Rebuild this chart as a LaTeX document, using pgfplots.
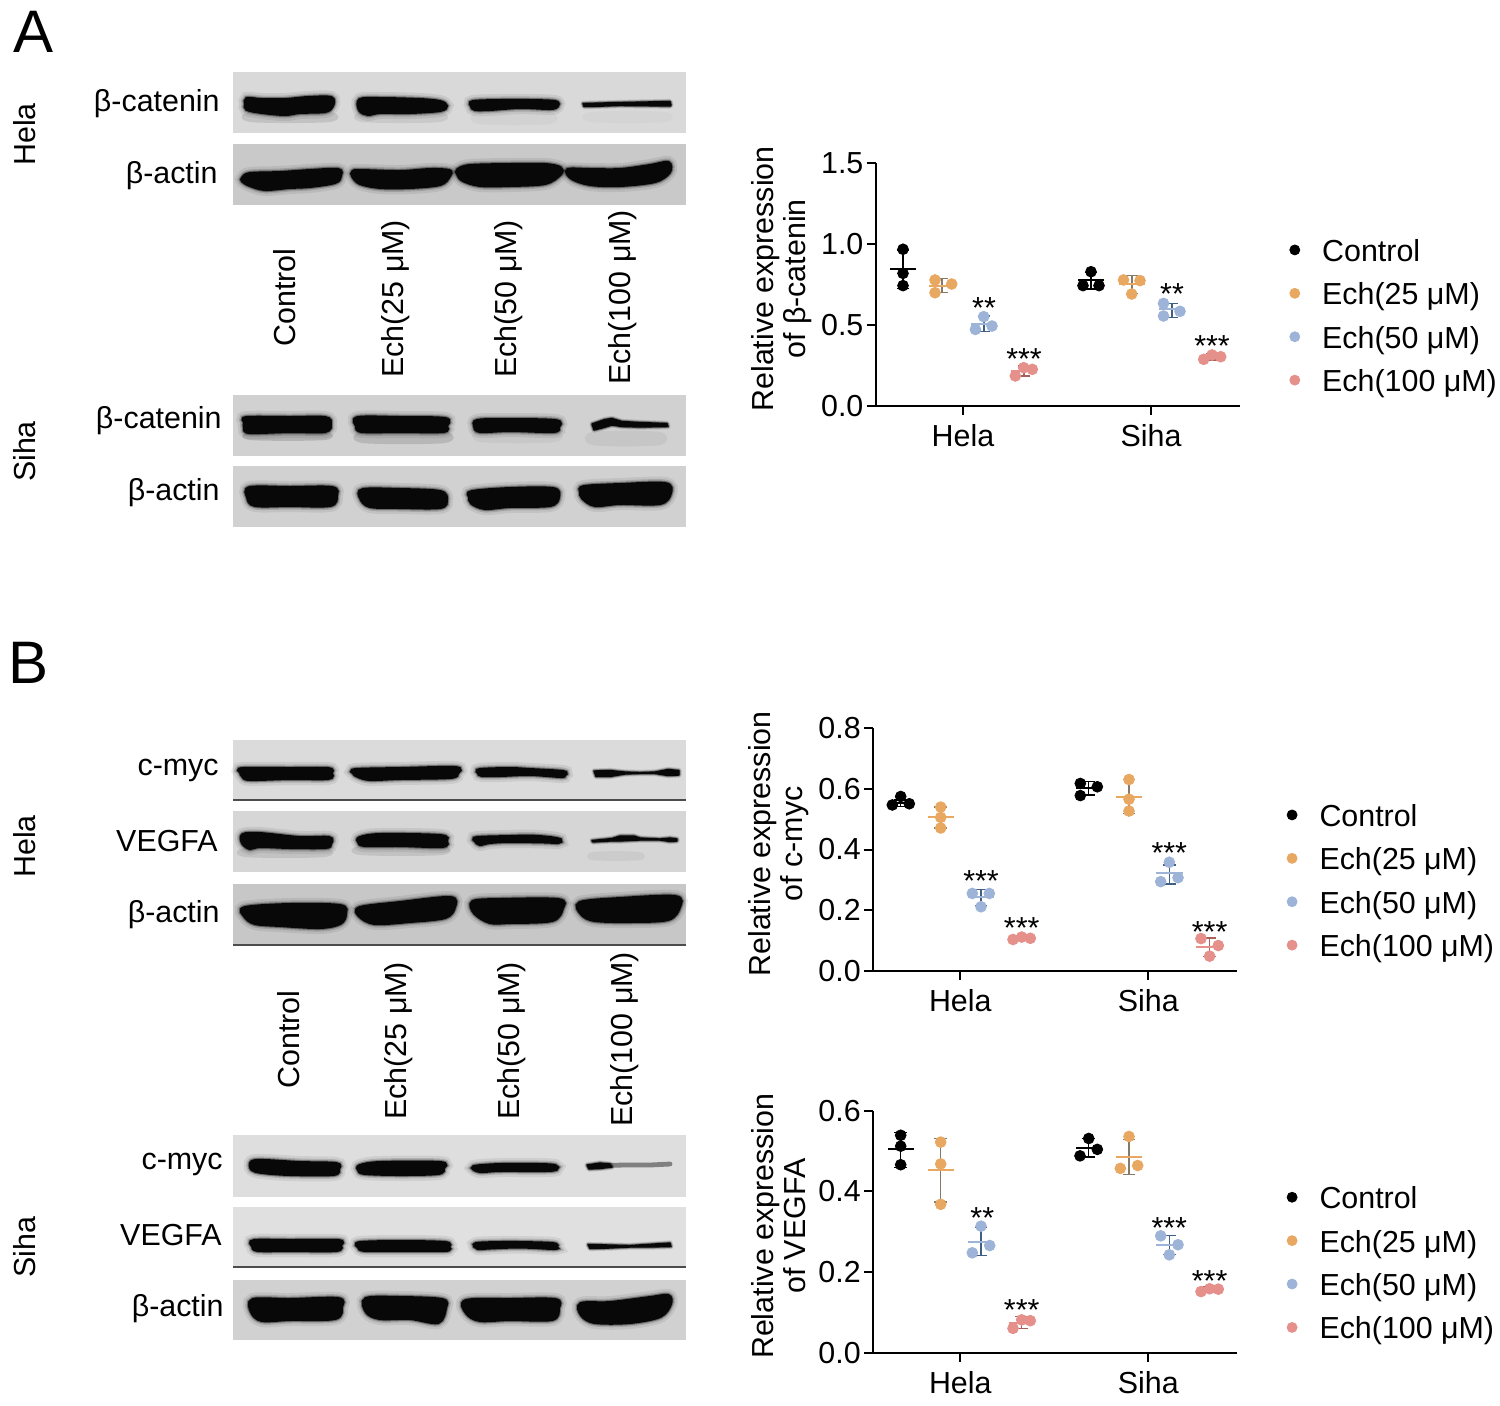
\documentclass[border=0pt]{standalone}
\usepackage{fontspec}
\setmainfont{Liberation Sans}
\usepackage{pgfplots}
\pgfplotsset{compat=1.18}
\definecolor{cC}{HTML}{000000}
\definecolor{cO}{HTML}{E8A862}
\definecolor{cB}{HTML}{9DB4D8}
\definecolor{cR}{HTML}{E5908A}
\definecolor{eC}{HTML}{000000}
\definecolor{eO}{HTML}{857A68}
\definecolor{eB}{HTML}{3F5F85}
\definecolor{eR}{HTML}{A85F5A}
\newcommand{\fs}{\fontsize{15.2}{16}\selectfont}
% ---- blot drawing helpers (pixel coordinates of the background axis)
\newcommand{\blot}[5]{\addplot[fill=black!#5,draw=none] coordinates {(#1,#3)(#2,#3)(#2,#4)(#1,#4)} --cycle;}
\newcommand{\smear}[5]{\addplot[fill=black,draw=none,fill opacity=#5,smooth cycle,tension=.5] coordinates {(#1,#3)(#2,#3)(#2,#4)(#1,#4)};}
\newcommand{\band}[1]{%
\addplot[fill=black,draw=black,fill opacity=.07,draw opacity=.07,line width=7pt,smooth cycle,tension=.55] coordinates {#1};
\addplot[fill=black,draw=black,fill opacity=.14,draw opacity=.14,line width=4.5pt,smooth cycle,tension=.55] coordinates {#1};
\addplot[fill=black,draw=black,fill opacity=.35,draw opacity=.35,line width=3pt,smooth cycle,tension=.55] coordinates {#1};
\addplot[fill=black!97,draw=black!97,line width=2pt,smooth cycle,tension=.55] coordinates {#1};}
\newcommand{\thinband}[1]{%
\addplot[fill=black,draw=black,fill opacity=.14,draw opacity=.14,line width=2.6pt,line join=round] coordinates {#1} --cycle;
\addplot[fill=black,draw=black,fill opacity=.35,draw opacity=.35,line width=1.6pt,line join=round] coordinates {#1} --cycle;
\addplot[fill=black!97,draw=black!97,line width=.7pt,line join=round] coordinates {#1} --cycle;}
\newcommand{\edge}[1]{\addplot[draw=black!70,line width=.6pt] coordinates {(233,#1)(686,#1)};}
\newcommand{\lab}[4]{\node[anchor=base east,inner sep=0,font=\fs] at (axis cs:#1,#2) {#3#4};}
\newcommand{\grouplab}[3]{\node[rotate=90,anchor=base,inner sep=0,font=\fs] at (axis cs:#1,#2) {#3};}
\newcommand{\lane}[3]{\node[rotate=90,anchor=base west,inner sep=0,font=\fs] at (axis cs:#1,#2) {#3};}
% ---- chart helpers
\pgfplotsset{
  panel/.style={
    scale only axis, width=182pt, height=121.2pt,
    xmin=0, xmax=364, ymin=0,
    axis lines=left, axis line style={-,line width=1pt,black},
    tick style={line width=1pt,black}, tick align=outside,
    major tick length=4.6pt,
    xtick={87,275}, xticklabels={Hela,Siha},
    xtick pos=bottom, ytick pos=left,
    ticklabel style={font=\fs,inner sep=0pt},
    xticklabel style={yshift=-4.5pt},
    yticklabel style={xshift=-1.5pt},
    /pgf/number format/assume math mode=true,
    /pgf/number format/fixed, /pgf/number format/fixed zerofill,
    /pgf/number format/precision=1,
    ylabel style={font=\fs,align=center,at={(axis description cs:-0.2595,0.523)},anchor=center,rotate=0},
    clip=false,
    legend cell align=left,
    legend image code/.code={\fill[##1] (0pt,1.7pt) circle (2.5pt);},
    legend style={at={(axis description cs:1.1346,0.360)},anchor=west,draw=none,fill=none,
      font=\fs,row sep=7.7pt,inner sep=0pt,
      /tikz/every odd column/.append style={column sep=11pt},
      nodes={inner sep=0pt,text height=11pt,text depth=3pt}},
  },
  dots/.style={only marks,mark=*,mark size=2.7pt,color=#1,mark options={draw=none,fill=#1}},
}
\newcommand{\summary}[3]{%
\addplot[forget plot,draw=none,mark=none,error bars/.cd,y dir=both,y explicit,
  error bar style={line width=.65pt,color=#2},
  error mark options={rotate=90,line width=.65pt,color=#2,mark size=3.2pt}] coordinates {#3};
\addplot[forget plot,only marks,mark=-,mark size=6.6pt,color=#1,mark options={line width=1pt,color=#1}] coordinates {#3};}
\newcommand{\stars}[3]{\node[anchor=base,inner sep=0,font=\fs,yshift=-7.6pt] at (axis cs:#1,#2) {#3};}
\newcommand{\legendnames}{\addlegendentry{Control}\addlegendentry{Ech(25 μM)}\addlegendentry{Ech(50 μM)}\addlegendentry{Ech(100 μM)}}
\begin{document}
\begin{tikzpicture}
\useasboundingbox (0,0) rectangle (750pt,702.5pt);
% ================= background axis: blots and text, 1 unit = 1 pixel
\begin{axis}[at={(0,0)},anchor=south west,scale only axis,width=750pt,height=702.5pt,
  xmin=0,xmax=1500,ymin=0,ymax=1405,y dir=reverse,hide axis,clip=false]
% Panel A, Hela
\blot{233}{686}{72}{133}{15}
\blot{233}{686}{144}{205}{21}
\smear{250}{330}{112}{122}{.10}
\smear{362}{440}{112}{122}{.07}
\smear{478}{550}{112}{124}{.03}
\smear{590}{665}{112}{122}{.02}
\band{(247,99)(262,100)(285,100)(308,98)(331,98)(332,106)(325,111)(300,112)(285,114)(262,112)(247,109)(246,104)}
\band{(360,100)(380,99)(420,100)(440,102)(446,106)(440,110)(410,112)(380,112)(368,114)(360,110)}
\band{(473,102)(500,101)(530,101)(555,102)(557,106)(550,108)(520,107)(490,109)(475,109)(472,106)}
\thinband{(583,103.5)(620,102.5)(670,101.5)(671,105)(670,106)(620,105.5)(590,106.5)(584,106.5)}
\band{(243,178)(250,174)(280,173)(310,171)(338,170)(340,176)(335,182)(310,186)(290,187)(265,189)(250,185)(243,181)}
\band{(353,172)(360,171)(400,172)(430,170)(449,171)(449,176)(440,184)(410,187)(380,187)(360,183)(353,176)}
\band{(458,170)(470,166)(510,165)(545,165)(560,168)(560,174)(545,183)(510,185)(480,185)(463,180)(458,174)}
\band{(568,170)(590,170)(620,170)(650,166)(668,163)(669,172)(655,181)(620,185)(590,184)(572,178)}
% Panel A, Siha
\blot{233}{686}{395}{456}{18}
\blot{233}{686}{466}{527}{18}
\smear{250}{325}{432}{440}{.14}
\smear{362}{445}{432}{443}{.12}
\smear{480}{555}{430}{442}{.04}
\smear{592}{660}{432}{445}{.05}
\band{(247,418)(290,418)(325,418)(330,424)(325,431)(290,431)(250,432)(245,428)(245,422)}
\band{(358,418)(400,418)(445,419)(446,426)(443,431)(400,431)(362,431)(357,426)}
\band{(477,421)(500,420)(555,421)(558,427)(553,431)(510,430)(480,431)(475,426)}
\thinband{(592,424)(605,419.5)(612,418.5)(622,421.5)(640,422.5)(667,423.5)(668,426.5)(640,427)(622,426.5)(612,425)(602,428)(594,430)}
\band{(250,488)(290,488)(332,488)(336,496)(330,505)(290,505)(255,505)(248,497)}
\band{(363,490)(400,490)(440,492)(446,500)(440,507)(400,507)(370,506)(361,498)}
\band{(472,492)(510,489)(553,489)(558,497)(550,505)(510,506)(485,508)(472,503)(470,497)}
\band{(584,487)(620,485)(665,484)(670,493)(660,503)(620,503)(595,505)(583,498)(581,492)}
% Panel B, Hela
\blot{233}{686}{740}{801}{14}
\blot{233}{686}{811}{872}{16}
\blot{233}{686}{884}{945}{22}
\edge{800}\edge{945}
\smear{245}{325}{848}{857}{.09}
\smear{360}{442}{846}{855}{.09}
\smear{592}{640}{852}{860}{.05}
\band{(243,769)(290,769)(328,769)(331,773)(328,778)(290,778)(250,779)(243,776)(241,772)}
\band{(356,770)(400,769)(455,768)(457,773)(450,777)(400,778)(370,779)(358,776)(354,773)}
\band{(480,770)(510,769)(530,770)(563,772)(564,775)(560,776)(530,774)(500,775)(482,775)(479,773)}
\thinband{(594,771)(610,770.5)(625,772)(640,772.5)(655,772)(668,769.5)(679,770.5)(679,775)(668,775.5)(655,773.5)(640,773.5)(625,774)(610,776.5)(596,776.5)}
\band{(243,835)(260,834)(300,838)(329,838)(330,844)(325,847)(290,847)(260,846)(250,848)(243,843)}
\band{(360,838)(380,835)(440,836)(446,841)(442,846)(400,845)(365,845)(359,842)}
\band{(477,838)(510,837)(530,836.5)(550,838)(560,840)(558,842)(545,841.5)(510,841)(490,842)(480,844)(476,841)}
\thinband{(592,840.5)(612,838.5)(620,836)(634,836)(640,838)(660,839)(670,838)(677,839)(677,841)(670,841.5)(660,840)(640,840)(620,841)(610,841)(593,842)}
\band{(245,908)(290,905)(340,906)(345,914)(340,923)(320,927)(280,925)(255,923)(245,916)}
\band{(360,908)(400,903)(450,898)(454,907)(445,917)(410,921)(375,923)(360,916)}
\band{(473,902)(500,900)(558,900)(562,908)(552,920)(510,922)(490,922)(475,913)}
\band{(580,903)(620,899)(675,897)(679,907)(668,919)(630,921)(595,920)(582,914)}
% Panel B, Siha
\blot{233}{686}{1135}{1197}{13}
\blot{233}{686}{1207}{1268}{12}
\blot{233}{686}{1280}{1340}{18}
\edge{1267}
\band{(252,1162)(265,1161)(300,1163)(336,1164)(338,1169)(333,1174)(290,1174)(262,1172)(252,1169)}
\band{(360,1166)(380,1163)(440,1163)(443,1168)(438,1173)(400,1174)(365,1173)(359,1170)}
\band{(474,1167)(500,1165)(540,1165)(555,1166)(556,1169)(545,1170)(500,1170)(480,1171)}
\addplot[draw=black!50,line width=2.4pt,line cap=round] coordinates {(600,1165.5)(625,1165)(650,1165)(670,1164)};
\thinband{(587,1165)(600,1163)(610,1164)(612,1167)(600,1168.5)(589,1169)}
\band{(254,1241)(290,1241)(338,1241)(340,1245)(336,1250)(290,1250)(258,1250)(253,1246)}
\band{(360,1243)(400,1242)(445,1243)(448,1247)(445,1250)(400,1250)(365,1250)(359,1247)}
\band{(476,1244)(500,1243)(520,1243)(553,1244)(556,1247)(553,1248)(520,1246.5)(490,1247.5)(478,1248)}
\thinband{(588,1244.5)(610,1245)(630,1245.5)(670,1243)(671,1246.5)(650,1247)(630,1247)(610,1248)(590,1248.5)}
\band{(253,1300)(290,1300)(338,1299)(341,1307)(335,1318)(290,1319)(262,1320)(252,1312)}
\band{(366,1299)(400,1298)(442,1300)(445,1308)(438,1322)(410,1318)(380,1318)(367,1312)}
\band{(466,1301)(510,1300)(555,1300)(558,1308)(552,1319)(510,1319)(480,1320)(467,1313)}
\band{(581,1304)(610,1303)(650,1298)(668,1296)(670,1304)(660,1316)(630,1322)(595,1322)(582,1315)}
% Text on the blots
\node[anchor=base west,inner sep=0,font=\fontsize{30}{32}\selectfont] at (axis cs:13,52) {A};
\node[anchor=base west,inner sep=0,font=\fontsize{30}{32}\selectfont] at (axis cs:8,683) {B};
\lab{220}{111}{β-catenin}{}
\lab{218}{183}{β-actin}{}
\lab{222}{428}{β-catenin}{}
\lab{220}{500}{β-actin}{}
\lab{219}{775}{c-myc}{}
\lab{218}{851}{VEGFA}{}
\lab{220}{922}{β-actin}{}
\lab{223}{1169}{c-myc}{}
\lab{222}{1245}{VEGFA}{}
\lab{224}{1316}{β-actin}{}
\grouplab{35}{134.5}{Hela}
\grouplab{35}{451.5}{Siha}
\grouplab{35}{846.5}{Hela}
\grouplab{35}{1247}{Siha}
\lane{295}{347}{Control}
\lane{403}{378}{Ech(25 μM)}
\lane{516}{378}{Ech(50 μM)}
\lane{630}{385}{Ech(100 μM)}
\lane{299}{1089}{Control}
\lane{406}{1120}{Ech(25 μM)}
\lane{519}{1120}{Ech(50 μM)}
\lane{632}{1127}{Ech(100 μM)}
\end{axis}
% ================= beta-catenin
\begin{axis}[panel,at={(438pt,499.65pt)},anchor=south west,ymax=1.5,ytick={0,0.5,1,1.5},
  ylabel={Relative expression\\of β-catenin}]
\addplot[dots=cC] coordinates {(27,.968)(27,.819)(27,.743)(215,.829)(207,.743)(223,.743)};
\addplot[dots=cO] coordinates {(59,.778)(75.7,.753)(59,.699)(247.5,.778)(264,.774)(255.7,.691)};
\addplot[dots=cB] coordinates {(107.7,.551)(116,.493)(99.4,.472)(287.5,.633)(304,.584)(287.5,.555)};
\addplot[dots=cR] coordinates {(147.7,.235)(156.3,.225)(139.3,.184)(336,.314)(344.7,.303)(327.7,.287)};
\legendnames
\summary{cC}{eC}{(27,.844) += (0,.120) -= (0,.118) (215,.778) += (0,.045) -= (0,.056)}
\summary{cO}{eO}{(66,.743) += (0,.043) -= (0,.044) (256,.753) += (0,.052) -= (0,.058)}
\summary{cB}{eB}{(108,.508) += (0,.047) -= (0,.050) (296,.596) += (0,.037) -= (0,.049)}
\summary{cR}{eR}{(148,.217) += (0,.028) -= (0,.033) (336,.303) += (0,.021) -= (0,.020)}
\stars{108}{.633}{**}
\stars{148}{.320}{***}
\stars{296}{.722}{**}
\stars{336}{.400}{***}
\end{axis}
% ================= c-myc
\begin{axis}[panel,at={(436.65pt,217.15pt)},anchor=south west,ymax=0.8,ytick={0,0.2,0.4,0.6,0.8},
  ylabel={Relative expression\\of c-myc}]
\addplot[dots=cC] coordinates {(27.4,.575)(19,.547)(36,.551)(207,.618)(224,.607)(207,.578)};
\addplot[dots=cO] coordinates {(67.4,.540)(67.4,.506)(67.4,.471)(255.7,.631)(255.7,.566)(255.7,.527)};
\addplot[dots=cB] coordinates {(99,.255)(116,.255)(107.7,.211)(296,.358)(304.7,.307)(287.4,.294)};
\addplot[dots=cR] coordinates {(148.4,.111)(157,.107)(139.7,.103)(327.7,.106)(345,.083)(336.3,.048)};
\legendnames
\summary{cC}{eC}{(27.4,.555) += (0,.008) -= (0,.014) (215.4,.604) += (0,.020) -= (0,.024)}
\summary{cO}{eO}{(67.4,.506) += (0,.034) -= (0,.035) (255.7,.574) += (0,.057) -= (0,.055)}
\summary{cB}{eB}{(107.7,.242) += (0,.027) -= (0,.026) (296,.321) += (0,.028) -= (0,.035)}
\summary{cR}{eR}{(148.4,.107) += (0,.008) -= (0,.008) (336.3,.079) += (0,.029) -= (0,.031)}
\stars{107.7}{.310}{***}
\stars{148.4}{.158}{***}
\stars{296}{.403}{***}
\stars{336.3}{.143}{***}
\end{axis}
% ================= VEGFA
\begin{axis}[panel,at={(436.65pt,26pt)},anchor=south west,ymax=0.6,ytick={0,0.2,0.4,0.6},
  ylabel={Relative expression\\of VEGFA}]
\addplot[dots=cC] coordinates {(27.4,.539)(27.4,.512)(27.4,.466)(215.4,.531)(224,.504)(206.7,.488)};
\addplot[dots=cO] coordinates {(67.4,.522)(67.4,.468)(67.4,.368)(255.7,.536)(264.4,.464)(247,.457)};
\addplot[dots=cB] coordinates {(107.7,.314)(116.4,.266)(99,.248)(287.4,.290)(304.7,.268)(296,.243)};
\addplot[dots=cR] coordinates {(148.4,.082)(157,.080)(139.7,.061)(336.3,.159)(345,.158)(327.7,.152)};
\legendnames
\summary{cC}{eC}{(27.4,.505) += (0,.040) -= (0,.046) (215.4,.508) += (0,.023) -= (0,.023)}
\summary{cO}{eO}{(67.4,.453) += (0,.078) -= (0,.079) (255.7,.486) += (0,.043) -= (0,.045)}
\summary{cB}{eB}{(107.7,.276) += (0,.035) -= (0,.035) (296,.267) += (0,.024) -= (0,.024)}
\summary{cR}{eR}{(148.4,.075) += (0,.015) -= (0,.014) (336.3,.157) += (0,.007) -= (0,.007)}
\stars{109}{.347}{**}
\stars{148.4}{.119}{***}
\stars{296}{.320}{***}
\stars{336.3}{.189}{***}
\end{axis}
\end{tikzpicture}
\end{document}
